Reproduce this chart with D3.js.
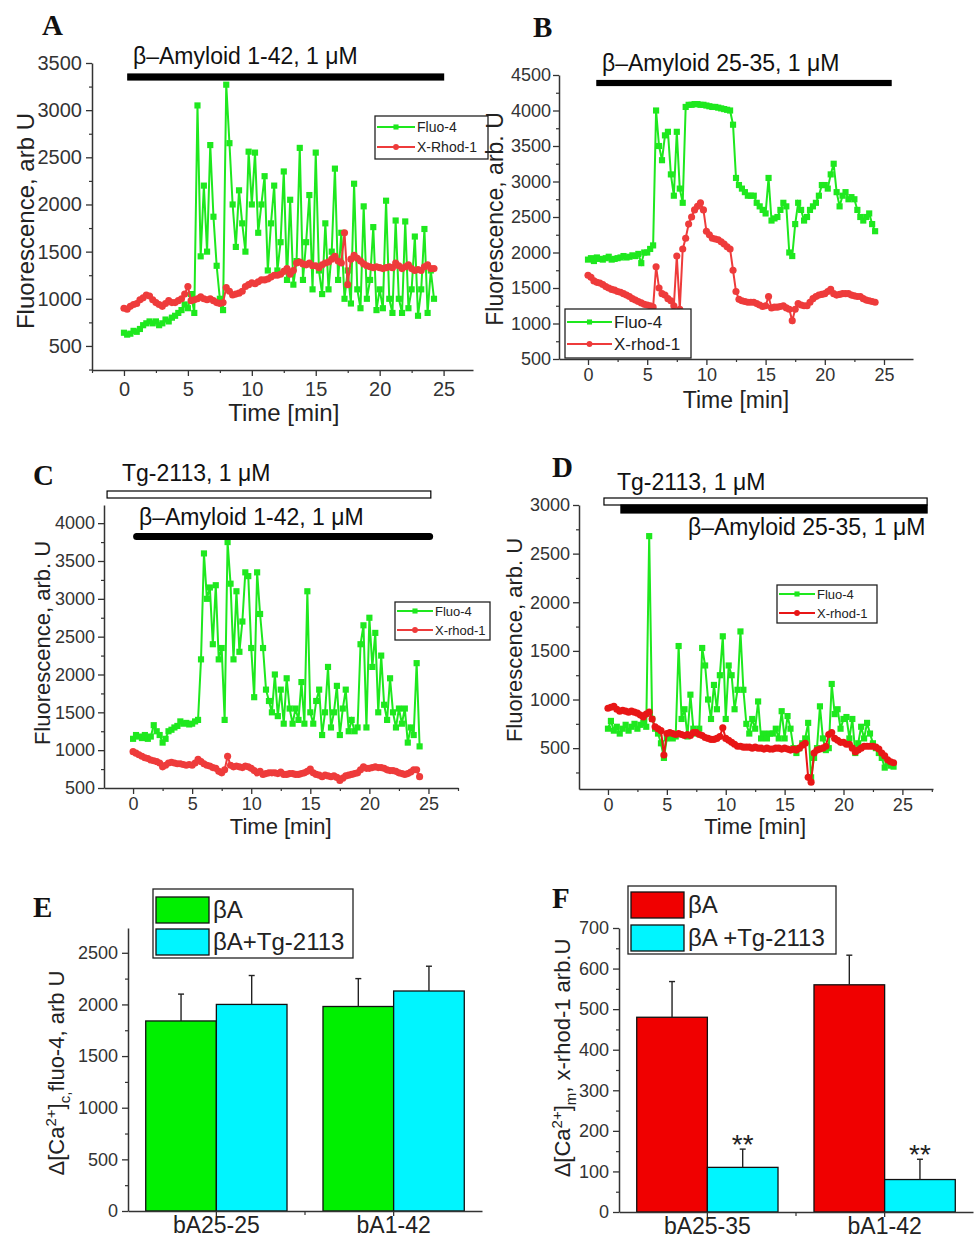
<!DOCTYPE html>
<html>
<head>
<meta charset="utf-8">
<script src="https://cdn.jsdelivr.net/npm/d3@7"></script>
<style>
  body { margin: 0; background: #fff; }
</style>
</head>
<body>
<div id="chart"></div>
<script>
// recordings are sampled every 0.25 min, starting at t = 0
var dt = 0.25;

// A: beta-amyloid 1-42
var fluoA = [640,620,630,660,650,680,720,740,760,740,
  760,720,740,780,760,800,820,850,880,940,
  900,1050,850,3050,1450,2200,1500,2630,1870,1350,
  1000,880,3270,2650,2000,1550,2150,1800,1500,2560,
  2000,2550,1700,2000,2300,1300,1800,2200,1300,1600,
  2350,1200,2050,1150,1400,2600,1200,1600,2100,1100,
  2550,1300,1050,1800,1100,1500,2380,1200,1700,1000,
  1300,950,2220,1100,900,1980,1000,1200,1760,880,
  1100,900,2040,1000,850,1830,1000,850,1820,900,
  1100,1660,820,1100,1740,850,1300,1000];
var rhodA = [900,890,920,940,950,990,1010,1040,1030,990,
  960,940,920,950,980,960,960,980,1000,1050,
  1130,980,990,1000,1020,1000,990,1000,980,960,
  950,960,1120,1080,1040,1050,1060,1080,1130,1150,
  1170,1160,1180,1200,1200,1210,1230,1250,1250,1260,
  1290,1320,1260,1300,1380,1390,1370,1360,1380,1350,
  1350,1330,1360,1380,1390,1420,1450,1400,1380,1700,
  1150,1420,1460,1430,1400,1370,1350,1340,1330,1340,
  1330,1320,1330,1340,1330,1380,1350,1320,1340,1360,
  1320,1300,1310,1300,1340,1360,1320,1320];

// B: beta-amyloid 25-35
var fluoB = [1900,1920,1880,1930,1910,1900,1920,1940,1900,1910,
  1920,1930,1950,1930,1940,1960,1950,1980,1850,2000,
  2000,2050,2100,4000,3500,3300,3650,3700,3100,2800,
  3700,2900,2700,4050,4080,4080,4090,4090,4080,4080,
  4070,4060,4050,4050,4040,4030,4020,4010,4000,3800,
  3050,2950,2900,2850,2800,2800,2800,2700,2650,2600,
  2550,3050,2450,2480,2500,2600,2700,2650,2000,1950,
  2400,2700,2600,2450,2500,2600,2650,2700,2800,2950,
  2950,2900,3100,3250,2850,2650,2800,2850,2750,2780,
  2750,2600,2500,2450,2500,2550,2400,2300];
var rhodB = [1680,1650,1600,1580,1570,1550,1520,1500,1480,1470,
  1450,1440,1420,1400,1380,1350,1330,1310,1290,1270,
  1260,1250,1230,1800,1500,1420,1400,1350,1320,1250,
  1950,1200,2050,2200,2400,2500,2600,2650,2700,2600,
  2300,2250,2200,2190,2180,2150,2120,2080,2050,1750,
  1450,1340,1320,1310,1300,1300,1300,1280,1260,1240,
  1250,1380,1220,1230,1230,1240,1250,1220,1200,1040,
  1200,1280,1260,1250,1250,1300,1350,1380,1400,1410,
  1420,1450,1480,1420,1400,1410,1420,1420,1420,1400,
  1390,1380,1380,1350,1330,1320,1310,1300];

// C: Tg-2113 + beta-amyloid 1-42
var fluoC = [1150,1200,1180,1160,1200,1150,1180,1330,1250,1200,
  1100,1150,1250,1270,1300,1320,1380,1350,1360,1340,
  1350,1380,1400,2200,3600,3000,3150,2400,3180,2200,
  2350,1400,3750,3200,2200,3100,2300,2700,3350,3300,
  2350,1700,3350,2800,2350,1800,1650,1500,2000,1450,
  1800,1350,1950,1550,1350,1550,1400,1900,1350,3100,
  1500,1350,1650,1800,1200,1500,2100,1300,1500,1850,
  1200,1550,1800,1250,1400,1250,1300,2400,2650,1300,
  2750,2100,2550,1500,2250,1600,1400,1950,1500,1300,
  1550,1350,1550,1100,1300,1200,2150,1050];
var rhodC = [980,960,940,920,900,890,870,860,850,830,
  780,800,830,840,830,820,820,810,800,810,
  800,830,880,850,820,800,790,770,760,720,
  700,740,920,800,780,790,780,770,790,780,
  760,730,700,720,680,690,700,700,700,690,
  710,680,680,690,690,680,680,690,700,720,
  750,700,680,670,650,670,660,650,660,640,
  600,630,660,670,680,690,700,740,780,760,
  760,770,780,770,770,760,740,730,730,720,
  700,690,680,690,710,740,740,650];

// D: Tg-2113 + beta-amyloid 25-35
var fluoD = [700,780,680,720,650,700,740,680,720,750,
  700,740,760,720,2680,800,700,650,550,400,
  600,620,600,620,1550,800,900,620,1050,700,
  650,700,1530,1350,1000,800,1150,900,1250,1650,
  800,1350,1250,900,1100,1700,1100,750,650,800,
  700,980,600,650,600,650,650,700,600,880,
  600,830,700,500,450,500,550,600,760,200,
  400,500,930,600,480,500,1160,850,900,700,
  800,820,600,800,450,550,720,600,760,650,
  550,500,450,400,300,350,320,310];
var rhodD = [910,920,930,900,880,890,880,870,880,870,
  860,840,820,850,870,800,720,700,680,430,
  650,660,650,640,650,640,630,640,630,660,
  660,640,630,610,600,590,590,600,620,710,
  600,580,560,540,520,520,510,510,510,500,
  510,500,500,490,500,490,490,500,500,490,
  500,490,480,490,480,500,530,550,200,150,
  450,480,490,500,520,640,660,600,580,560,
  560,540,540,500,460,480,500,520,520,520,
  520,510,490,450,420,380,360,350];

// application periods [start, end], min
var amyloidA = [0.3, 25.0];
var amyloidB = [0.75, 25.6];
var tgC = [-2.2, 25.2], amyloidC = [0.3, 25.1];
var tgD = [-0.34, 27.1], amyloidD = [1.1, 27.1];

// tick labels
var timeTicks = [0, 5, 10, 15, 20, 25];
var timeMinor = [-2.5, 2.5, 7.5, 12.5, 17.5, 22.5, 27.5];
var yTicksA = [500, 1000, 1500, 2000, 2500, 3000, 3500];
var yTicksB = [500, 1000, 1500, 2000, 2500, 3000, 3500, 4000, 4500];
var yTicksC = [500, 1000, 1500, 2000, 2500, 3000, 3500, 4000];
var yTicksD = [500, 1000, 1500, 2000, 2500, 3000];
var yTicksE = [0, 500, 1000, 1500, 2000, 2500];
var yTicksF = [0, 100, 200, 300, 400, 500, 600, 700];

// E, F: bar summaries
var groupsE = ["bA25-25", "bA1-42"];
var seriesE = ["βA", "βA+Tg-2113"];
var meanE_bA = [1840, 1980], errE_bA = [260, 270];
var meanE_tg = [2000, 2130], errE_tg = [280, 240];

var groupsF = ["bA25-35", "bA1-42"];
var seriesF = ["βA", "βA +Tg-2113"];
var meanF_bA = [480, 560], errF_bA = [88, 73];
var meanF_tg = [110, 80], errF_tg = [45, 50];
var signifF = ["**", "**"];

var FONT = "'Liberation Sans', Arial, sans-serif";
var SERIF = "'Liberation Serif', 'Times New Roman', serif";
var axisColor = "#333";
var green = "#1ee81e", red = "#ee3b3b";
var fmt = d3.format("d");

var svg = d3.select("#chart").append("svg").attr("width", 976).attr("height", 1240);
svg.append("rect").attr("width", 976).attr("height", 1240).attr("fill", "#fff");

function styleAxis(g, fs) {
  g.attr("font-family", FONT).attr("font-size", fs);
  g.select(".domain").attr("stroke", axisColor).attr("stroke-width", 1.5);
  g.selectAll(".tick line").attr("stroke", axisColor).attr("stroke-width", 1.3);
  g.selectAll(".tick text").attr("fill", axisColor);
}

function minorAxis(g, axis) {
  g.call(axis.tickSize(3).tickFormat(""));
  g.select(".domain").remove();
  g.selectAll(".tick line").attr("stroke", axisColor).attr("stroke-width", 1.2);
}

function rotTitle(x, y, fs) {
  return svg.append("text")
    .attr("transform", "translate(" + x + "," + y + ") rotate(-90)")
    .attr("text-anchor", "middle")
    .attr("font-family", FONT).attr("font-size", fs).attr("fill", "#222");
}

function letter(t, x, y) {
  svg.append("text").attr("x", x).attr("y", y).text(t)
    .attr("font-family", SERIF).attr("font-weight", "bold")
    .attr("font-size", 29).attr("fill", "#111");
}

function drawTrace(values, x, y, color, shape, size) {
  var pts = values.map(function(v, i) { return [i * dt, v]; });
  svg.append("path").datum(pts)
    .attr("fill", "none").attr("stroke", color).attr("stroke-width", 2)
    .attr("d", d3.line()
      .x(function(d) { return x(d[0]); })
      .y(function(d) { return y(d[1]); }));
  svg.append("g").selectAll("path").data(pts).enter().append("path")
    .attr("transform", function(d) { return "translate(" + x(d[0]) + "," + y(d[1]) + ")"; })
    .attr("d", d3.symbol().type(shape).size(size))
    .attr("fill", color);
}

function tracePanel(p) {
  var x = d3.scaleLinear().domain(p.xDomain).range([p.left, p.right]);
  var y = d3.scaleLinear().domain(p.yDomain).range([p.bottom, p.top]);

  var gx = svg.append("g").attr("transform", "translate(0," + p.bottom + ")")
    .call(d3.axisBottom(x).tickValues(timeTicks).tickFormat(fmt)
      .tickSize(6).tickSizeOuter(0).tickPadding(p.padX));
  styleAxis(gx, p.fs);
  minorAxis(svg.append("g").attr("transform", "translate(0," + p.bottom + ")"),
    d3.axisBottom(x).tickValues(timeMinor.filter(function(t) { return t >= p.xDomain[0] && t <= p.xDomain[1]; })));

  var gy = svg.append("g").attr("transform", "translate(" + p.left + ",0)")
    .call(d3.axisLeft(y).tickValues(p.yTicks).tickFormat(fmt)
      .tickSize(6).tickSizeOuter(0).tickPadding(p.padY));
  styleAxis(gy, p.fs);
  var minors = p.yTicks.map(function(v) { return v - 250; })
    .filter(function(v) { return v >= p.yDomain[0]; });
  minorAxis(svg.append("g").attr("transform", "translate(" + p.left + ",0)"),
    d3.axisLeft(y).tickValues(minors));

  svg.append("text").attr("x", (x(0) + x(25)) / 2).attr("y", p.xTitleY)
    .attr("text-anchor", "middle").attr("font-family", FONT)
    .attr("font-size", p.titleFs).attr("fill", "#222").text("Time [min]");
  rotTitle(p.yTitleX, p.yTitleY, p.titleFs).text(p.yTitle);

  drawTrace(p.fluo, x, y, green, d3.symbolSquare, 38);
  drawTrace(p.rhod, x, y, p.redColor || red, d3.symbolCircle, 40);

  // application bars
  p.bars.forEach(function(b) {
    if (b.round) {
      svg.append("line").attr("x1", x(b.t[0])).attr("x2", x(b.t[1]))
        .attr("y1", b.y + b.h / 2).attr("y2", b.y + b.h / 2)
        .attr("stroke", "#000").attr("stroke-width", b.h).attr("stroke-linecap", "round");
    } else {
      svg.append("rect").attr("x", x(b.t[0])).attr("y", b.y)
        .attr("width", x(b.t[1]) - x(b.t[0])).attr("height", b.h)
        .attr("fill", b.fill).attr("stroke", "#000").attr("stroke-width", 1.2);
    }
    svg.append("text").attr("x", b.lx).attr("y", b.ly).text(b.label)
      .attr("font-family", FONT).attr("font-size", 23).attr("fill", "#111");
  });

  // legend
  var L = p.legend;
  svg.append("rect").attr("x", L.x).attr("y", L.y).attr("width", L.w).attr("height", L.h)
    .attr("fill", "#fff").attr("stroke", "#222").attr("stroke-width", 1.3);
  [[green, d3.symbolSquare, 0], [p.redColor || red, d3.symbolCircle, 1]].forEach(function(e) {
    var ry = L.rows[e[2]];
    var mx = L.x + (2 + L.line) / 2;
    svg.append("line").attr("x1", L.x + 2).attr("x2", L.x + L.line)
      .attr("y1", ry).attr("y2", ry).attr("stroke", e[0]).attr("stroke-width", 2);
    svg.append("path").attr("transform", "translate(" + mx + "," + ry + ")")
      .attr("d", d3.symbol().type(e[1]).size(26)).attr("fill", e[0]);
    svg.append("text").attr("x", L.x + L.line + 2).attr("y", ry + L.fs * 0.36)
      .attr("font-family", FONT).attr("font-size", L.fs).attr("fill", "#222")
      .text(L.names[e[2]]);
  });

  letter(p.letter, p.letterX, p.letterY);
}

function barPanel(p) {
  var x0 = d3.scaleBand().domain(p.groups).range([p.left, p.right])
    .paddingInner(0.203).paddingOuter(0.1);
  var x1 = d3.scaleBand().domain(p.series).range([0, x0.bandwidth()]);
  var y = d3.scaleLinear().domain(p.yDomain).range([p.bottom, p.top]);

  var gy = svg.append("g").attr("transform", "translate(" + p.left + ",0)")
    .call(d3.axisLeft(y).tickValues(p.yTicks).tickFormat(fmt)
      .tickSize(6).tickSizeOuter(0).tickPadding(4));
  styleAxis(gy, 18);
  minorAxis(svg.append("g").attr("transform", "translate(" + p.left + ",0)"),
    d3.axisLeft(y).tickValues(p.yMinor));

  p.series.forEach(function(s, k) {
    var means = p.means[k], errs = p.errs[k];
    p.groups.forEach(function(gname, i) {
      var bx = x0(gname) + x1(s), bw = x1.bandwidth();
      svg.append("rect").attr("x", bx).attr("y", y(means[i]))
        .attr("width", bw).attr("height", y(0) - y(means[i]))
        .attr("fill", p.colors[k]).attr("stroke", "#111").attr("stroke-width", 1.3);
      var cx = bx + bw / 2;
      svg.append("line").attr("x1", cx).attr("x2", cx)
        .attr("y1", y(means[i])).attr("y2", y(means[i] + errs[i]))
        .attr("stroke", "#222").attr("stroke-width", 1.4);
      svg.append("line").attr("x1", cx - 3).attr("x2", cx + 3)
        .attr("y1", y(means[i] + errs[i])).attr("y2", y(means[i] + errs[i]))
        .attr("stroke", "#222").attr("stroke-width", 1.4);
      if (p.signif && k === 1) {
        svg.append("text").attr("x", cx).attr("y", y(means[i] + errs[i]) + 5)
          .attr("text-anchor", "middle").attr("font-family", FONT)
          .attr("font-size", 28).attr("fill", "#222").text(p.signif[i]);
      }
    });
  });

  var gx = svg.append("g").attr("transform", "translate(0," + p.bottom + ")")
    .call(d3.axisBottom(x0).tickSize(5).tickSizeOuter(0).tickPadding(1));
  styleAxis(gx, 23);
  gx.selectAll(".tick text").attr("fill", "#222");
  var mid = (x0(p.groups[0]) + x0.bandwidth() / 2 + x0(p.groups[1]) + x0.bandwidth() / 2) / 2;
  gx.append("line").attr("x1", mid).attr("x2", mid).attr("y1", 0).attr("y2", 4)
    .attr("stroke", axisColor).attr("stroke-width", 1.2);

  // legend
  var L = p.legend;
  svg.append("rect").attr("x", L.x).attr("y", L.y).attr("width", L.w).attr("height", L.h)
    .attr("fill", "#fff").attr("stroke", "#222").attr("stroke-width", 1.3);
  p.series.forEach(function(s, k) {
    svg.append("rect").attr("x", L.x + 3).attr("y", L.rows[k]).attr("width", 53).attr("height", 26)
      .attr("fill", p.colors[k]).attr("stroke", "#111").attr("stroke-width", 1.3);
    svg.append("text").attr("x", L.x + 60).attr("y", L.rows[k] + 21)
      .attr("font-family", FONT).attr("font-size", 24).attr("fill", "#222").text(s);
  });

  var t = rotTitle(p.yTitleX, p.yTitleY, 22);
  p.yTitle.forEach(function(part) {
    var ts = t.append("tspan").text(part[0]);
    if (part[1] === "sup") ts.attr("font-size", 15).attr("dy", -8);
    if (part[1] === "back") ts.attr("dy", 8);
    if (part[1] === "sub") ts.attr("font-size", 15).attr("dy", 6);
    if (part[1] === "backsub") ts.attr("dy", -6);
  });

  letter(p.letter, p.letterX, p.letterY);
}

tracePanel({
  letter: "A", letterX: 42, letterY: 35,
  fluo: fluoA, rhod: rhodA,
  left: 92, right: 473, top: 63, bottom: 370,
  xDomain: [-2.5, 27.3], yDomain: [245, 3500], yTicks: yTicksA,
  fs: 20, padX: 6, padY: 4, titleFs: 24,
  xTitleY: 421, yTitleX: 34, yTitleY: 221, yTitle: "Fluorescence, arb U",
  bars: [{ t: amyloidA, y: 74, h: 6, fill: "#000", label: "β–Amyloid 1-42, 1 μM", lx: 133, ly: 64 }],
  legend: { x: 375, y: 116, w: 113, h: 43, line: 40, rows: [127, 147], fs: 14, names: ["Fluo-4", "X-Rhod-1"] }
});

tracePanel({
  letter: "B", letterX: 533, letterY: 37,
  fluo: fluoB, rhod: rhodB,
  left: 559, right: 913, top: 75, bottom: 359,
  xDomain: [-2.45, 27.45], yDomain: [500, 4500], yTicks: yTicksB,
  fs: 18, padX: 3, padY: 2, titleFs: 23,
  xTitleY: 408, yTitleX: 503, yTitleY: 219, yTitle: "Fluorescence, arb. U",
  bars: [{ t: amyloidB, y: 80.5, h: 5, fill: "#000", label: "β–Amyloid 25-35, 1 μM", lx: 602, ly: 71 }],
  legend: { x: 565, y: 309, w: 126, h: 49, line: 47, rows: [322, 344], fs: 17, names: ["Fluo-4", "X-rhod-1"] }
});

tracePanel({
  letter: "C", letterX: 33, letterY: 485,
  fluo: fluoC, rhod: rhodC,
  left: 104, right: 458, top: 505, bottom: 788,
  xDomain: [-2.46, 27.5], yDomain: [500, 4240], yTicks: yTicksC,
  fs: 18, padX: 3, padY: 3, titleFs: 22,
  xTitleY: 834, yTitleX: 50, yTitleY: 643, yTitle: "Fluorescence, arb. U",
  bars: [
    { t: tgC, y: 491, h: 7, fill: "#fff", label: "Tg-2113, 1 μM", lx: 122, ly: 481 },
    { t: amyloidC, y: 533, h: 7, round: true, label: "β–Amyloid 1-42, 1 μM", lx: 139, ly: 525 }
  ],
  legend: { x: 395, y: 602, w: 95, h: 38, line: 38, rows: [611, 630], fs: 13, names: ["Fluo-4", "X-rhod-1"] }
});

tracePanel({
  letter: "D", letterX: 552, letterY: 477,
  fluo: fluoD, rhod: rhodD, redColor: "#e81616",
  left: 579, right: 933, top: 505, bottom: 789,
  xDomain: [-2.46, 27.6], yDomain: [80, 3000], yTicks: yTicksD,
  fs: 18, padX: 3, padY: 3, titleFs: 22,
  xTitleY: 834, yTitleX: 522, yTitleY: 640, yTitle: "Fluorescence, arb. U",
  bars: [
    { t: tgD, y: 498, h: 7, fill: "#fff", label: "Tg-2113, 1 μM", lx: 617, ly: 490 },
    { t: amyloidD, y: 505, h: 8, fill: "#000", label: "β–Amyloid 25-35, 1 μM", lx: 688, ly: 535 }
  ],
  legend: { x: 777, y: 585, w: 100, h: 38, line: 38, rows: [594, 613], fs: 13, names: ["Fluo-4", "X-rhod-1"] }
});

barPanel({
  letter: "E", letterX: 33, letterY: 917,
  groups: groupsE, series: seriesE,
  means: [meanE_bA, meanE_tg], errs: [errE_bA, errE_tg],
  colors: ["#00f000", "#00f5ff"],
  left: 128, right: 482, top: 928, bottom: 1211,
  yDomain: [0, 2740], yTicks: yTicksE, yMinor: [250, 750, 1250, 1750, 2250],
  yTitleX: 64, yTitleY: 1073,
  yTitle: [["Δ[Ca"], ["2+", "sup"], ["]", "back"], ["c,", "sub"], ["fluo-4, arb U", "backsub"]],
  legend: { x: 153, y: 889, w: 200, h: 69, rows: [897, 929] }
});

barPanel({
  letter: "F", letterX: 552, letterY: 908,
  groups: groupsF, series: seriesF,
  means: [meanF_bA, meanF_tg], errs: [errF_bA, errF_tg], signif: signifF,
  colors: ["#f00000", "#00f5ff"],
  left: 619, right: 973, top: 928, bottom: 1212,
  yDomain: [0, 700], yTicks: yTicksF, yMinor: [50, 150, 250, 350, 450, 550, 650],
  yTitleX: 570, yTitleY: 1058,
  yTitle: [["Δ[Ca"], ["2+", "sup"], ["]", "back"], ["m", "sub"], [", x-rhod-1 arb.U", "backsub"]],
  legend: { x: 628, y: 886, w: 208, h: 68, rows: [892, 925] }
});
</script>
</body>
</html>
